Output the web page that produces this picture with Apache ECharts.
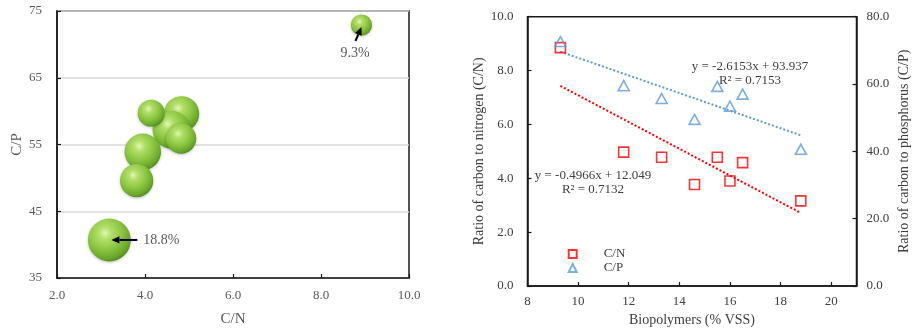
<!DOCTYPE html>
<html>
<head>
<meta charset="utf-8">
<script src="https://cdn.jsdelivr.net/npm/echarts@6/dist/echarts.min.js"></script>
<style>
  html, body { margin: 0; padding: 0; background: #fff; }
  #main { width: 914px; height: 332px; }
</style>
</head>
<body>
<div id="main"></div>
<script>
// Left panel: C/N vs C/P, bubble size = biopolymer content (% VSS)
const bubbleCN  = [3.19, 4.83, 4.60, 3.95, 3.81, 4.82, 4.14, 8.92];
const bubbleCP  = [40.7, 59.6, 57.2, 53.9, 49.6, 55.9, 59.7, 72.9];
const bubbleBio = [18.8, 15.5, 16.5, 16.0, 14.6, 13.3, 11.8, 9.3];
const bubbleNotes = [18.8, 9.3];

// Right panel: nutrient ratios against biopolymer content
const biopolymers = [9.3, 11.8, 13.3, 14.6, 15.5, 16.0, 16.5, 18.8];
const ratioCN = [8.85, 4.97, 4.78, 3.77, 4.78, 3.90, 4.58, 3.16];
const ratioCP = [72.6, 59.5, 55.7, 49.5, 59.3, 53.4, 57.0, 40.6];

// Linear fits
const fitCN = { slope: -0.4966, intercept: 12.049, r2: 0.7132 };
const fitCP = { slope: -2.6153, intercept: 93.937, r2: 0.7153 };
const fitRange = [9.3, 18.8];

// Axis ticks
const leftXTicks = { min: 2, max: 10, step: 2 };
const leftYTicks = { min: 35, max: 75, step: 10 };
const rightXTicks = { min: 8, max: 21, step: 2 };
const cnTicks = { min: 0, max: 10, step: 2 };
const cpTicks = { min: 0, max: 80, step: 20 };

const FONT = '"Liberation Serif", "Times New Roman", serif';
const GREY = '#595959';
const DARK = '#404040';
const INK = '#1a1a1a';

const chart = echarts.init(document.getElementById('main'));

const fitLine = f => fitRange.map(x => [x, +(f.slope * x + f.intercept).toFixed(4)]);
const fixed1 = v => v.toFixed(1);

function axisBase(color) {
  return {
    axisLine: { show: true, onZero: false, lineStyle: { color: INK, width: 1.5 } },
    axisTick: { show: true, inside: true, length: 4, lineStyle: { color: INK, width: 1.2 } },
    splitLine: { show: false },
    axisLabel: { color: color, fontFamily: FONT, fontSize: 13 },
    nameTextStyle: { color: color, fontFamily: FONT, fontSize: 14 }
  };
}

// Shaded sphere fill for the bubbles
const sphere = {
  type: 'radial', x: 0.4, y: 0.34, r: 0.72,
  colorStops: [
    { offset: 0, color: '#e0f8b4' },
    { offset: 0.2, color: '#b2df6a' },
    { offset: 0.55, color: '#8bc540' },
    { offset: 0.82, color: '#6aa72b' },
    { offset: 1, color: '#4a851a' }
  ]
};

const option = {
  animation: false,
  grid: [
    { left: 57, top: 11, width: 352, height: 268, show: true, borderColor: INK, borderWidth: 1.5 },
    { left: 527.5, top: 16.7, width: 329, height: 270.6, show: true, borderColor: INK, borderWidth: 1.5 }
  ],
  xAxis: [
    Object.assign(axisBase(GREY), {
      gridIndex: 0, type: 'value', min: leftXTicks.min, max: leftXTicks.max, interval: leftXTicks.step,
      name: 'C/N', nameLocation: 'middle', nameGap: 34,
      axisLabel: { color: GREY, fontFamily: FONT, fontSize: 13, margin: 11, formatter: fixed1 },
      nameTextStyle: { color: GREY, fontFamily: FONT, fontSize: 15 }
    }),
    Object.assign(axisBase(DARK), {
      gridIndex: 1, type: 'value', min: rightXTicks.min, max: rightXTicks.max, interval: rightXTicks.step,
      name: 'Biopolymers (% VSS)', nameLocation: 'middle', nameGap: 27,
      axisLabel: { color: DARK, fontFamily: FONT, fontSize: 13, margin: 9, showMaxLabel: false }
    })
  ],
  yAxis: [
    Object.assign(axisBase(GREY), {
      gridIndex: 0, type: 'value', min: leftYTicks.min, max: leftYTicks.max, interval: leftYTicks.step,
      name: 'C/P', nameLocation: 'middle', nameGap: 32, nameRotate: 90,
      splitLine: { show: true, lineStyle: { color: '#d9d9d9', width: 1.5 } },
      axisLabel: { color: GREY, fontFamily: FONT, fontSize: 13, margin: 15 },
      nameTextStyle: { color: GREY, fontFamily: FONT, fontSize: 15 }
    }),
    Object.assign(axisBase(DARK), {
      gridIndex: 1, type: 'value', position: 'left', min: cnTicks.min, max: cnTicks.max, interval: cnTicks.step,
      name: 'Ratio of carbon to nitrogen (C/N)', nameLocation: 'middle', nameGap: 41, nameRotate: 90,
      axisLabel: { color: DARK, fontFamily: FONT, fontSize: 13, margin: 14, formatter: fixed1 }
    }),
    Object.assign(axisBase(DARK), {
      gridIndex: 1, type: 'value', position: 'right', min: cpTicks.min, max: cpTicks.max, interval: cpTicks.step,
      name: 'Ratio of carbon to phosphorus (C/P)', nameLocation: 'middle', nameGap: 41, nameRotate: 90,
      axisLabel: { color: DARK, fontFamily: FONT, fontSize: 13, margin: 10, formatter: fixed1 }
    })
  ],
  legend: {
    data: ['C/N', 'C/P'],
    orient: 'vertical', left: 562.7, top: 242,
    itemWidth: 8, itemHeight: 8, itemGap: 0,
    textStyle: { color: DARK, fontFamily: FONT, fontSize: 13, lineHeight: 14, padding: [0, 0, 0, 22] }
  },
  series: [
    {
      name: 'bubbles', type: 'scatter', xAxisIndex: 0, yAxisIndex: 0,
      data: bubbleCN.map((x, i) => [x, bubbleCP[i], bubbleBio[i]]),
      symbolSize: v => v[2] * 2.28,
      itemStyle: { color: sphere, opacity: 1, shadowBlur: 3, shadowColor: 'rgba(0,0,0,0.25)', shadowOffsetY: 1 },
      emphasis: { disabled: true }
    },
    {
      name: 'C/N fit', type: 'line', xAxisIndex: 1, yAxisIndex: 1,
      data: fitLine(fitCN), symbol: 'none',
      lineStyle: { color: '#ff0000', width: 2, type: [2, 2] }, z: 2
    },
    {
      name: 'C/P fit', type: 'line', xAxisIndex: 1, yAxisIndex: 2,
      data: fitLine(fitCP), symbol: 'none',
      lineStyle: { color: '#5b9bd5', width: 2, type: [2, 2] }, z: 2
    },
    {
      name: 'C/N', type: 'scatter', xAxisIndex: 1, yAxisIndex: 1,
      data: biopolymers.map((x, i) => [x, ratioCN[i]]),
      symbol: 'rect', symbolSize: 10,
      itemStyle: { color: 'rgba(255,255,255,0)', borderColor: '#ff0000', borderWidth: 1.6 },
      z: 3
    },
    {
      name: 'C/P', type: 'scatter', xAxisIndex: 1, yAxisIndex: 2,
      data: biopolymers.map((x, i) => [x, ratioCP[i]]),
      symbol: 'triangle', symbolSize: [11, 10],
      itemStyle: { color: 'rgba(255,255,255,0)', borderColor: '#5b9bd5', borderWidth: 1.6 },
      z: 3
    }
  ]
};

chart.setOption(option);

// Arrow callouts for the largest and smallest bubbles
function arrow(from, to) {
  const dx = to[0] - from[0], dy = to[1] - from[1];
  const len = Math.hypot(dx, dy);
  const ux = dx / len, uy = dy / len;
  const head = 8, half = 3.6;
  const bx = to[0] - ux * head, by = to[1] - uy * head;
  return [
    { type: 'line', shape: { x1: from[0], y1: from[1], x2: bx, y2: by }, style: { stroke: '#000', lineWidth: 2 }, z: 10 },
    { type: 'polygon', shape: { points: [to, [bx - uy * half, by + ux * half], [bx + uy * half, by - ux * half]] }, style: { fill: '#000' }, z: 10 }
  ];
}

const graphics = [];
bubbleNotes.forEach(pct => {
  const i = bubbleBio.indexOf(pct);
  const c = chart.convertToPixel({ gridIndex: 0 }, [bubbleCN[i], bubbleCP[i]]);
  if (pct > 15) {
    graphics.push(...arrow([c[0] + 28, c[1]], [c[0] + 2, c[1]]));
    graphics.push({ type: 'text', x: c[0] + 34, y: c[1], z: 10,
      style: { text: pct + '%', fill: GREY, font: '14px ' + FONT, textAlign: 'left', textVerticalAlign: 'middle' } });
  } else {
    graphics.push(...arrow([c[0] - 6, c[1] + 16], [c[0], c[1] + 2]));
    graphics.push({ type: 'text', x: c[0] - 6.5, y: c[1] + 28, z: 10,
      style: { text: pct + '%', fill: GREY, font: '14px ' + FONT, textAlign: 'center', textVerticalAlign: 'middle' } });
  }
});

// Fit equations
const eq = f => 'y = ' + f.slope + 'x + ' + f.intercept + '\nR\u00b2 = ' + f.r2;
graphics.push({ type: 'text', x: 750, y: 59, z: 10,
  style: { text: eq(fitCP), fill: DARK, font: '13px ' + FONT, textAlign: 'center', lineHeight: 14.5 } });
graphics.push({ type: 'text', x: 593, y: 168, z: 10,
  style: { text: eq(fitCN), fill: DARK, font: '13px ' + FONT, textAlign: 'center', lineHeight: 14.5 } });

chart.setOption({ graphic: graphics });
</script>
</body>
</html>
